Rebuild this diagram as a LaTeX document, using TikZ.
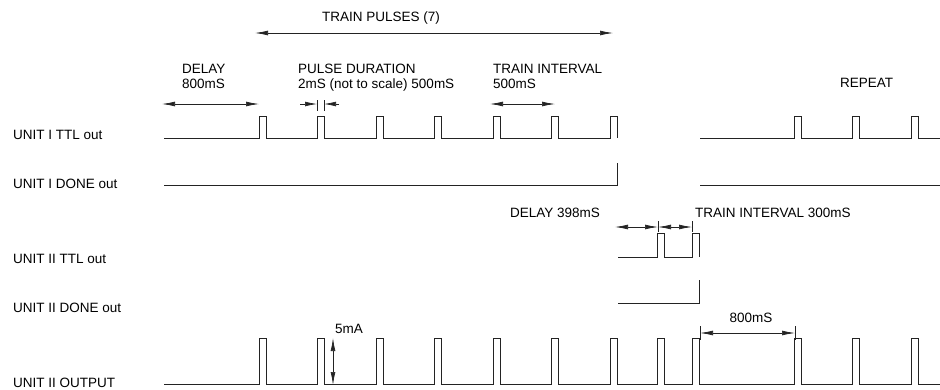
\documentclass[tikz,border=0pt]{standalone}
\usepackage{fontspec}
\setmainfont{Liberation Sans}
\usepackage{tikz}
\usetikzlibrary{arrows.meta, positioning, calc}
\definecolor{trace}{RGB}{35,35,35}

\tikzset{
  wave/.style={trace, line width=0.9pt},
  dim/.style={trace, line width=0.7pt, {Latex[length=13pt,width=4.8pt]}-{Latex[length=13pt,width=4.8pt]}},
  dimone/.style={trace, line width=0.7pt, -{Latex[length=12pt,width=4.8pt]}},
  tick/.style={trace, line width=0.6pt},
  lbl/.style={font=\fontsize{13.5}{16}\selectfont, inner sep=0pt, anchor=base west},
}

\begin{document}
\begin{tikzpicture}[x=1pt, y=-1pt]
  \useasboundingbox (0,0) rectangle (940,389);

  % signal names
  \node[lbl] (ttlA)  at (13,139) {UNIT I TTL out};
  \node[lbl] (doneA) at (13,188) {UNIT I DONE out};
  \node[lbl] (ttlB)  at (13,263) {UNIT II TTL out};
  \node[lbl] (doneB) at (13,312) {UNIT II DONE out};
  \node[lbl] (outB)  at (13,387) {UNIT II OUTPUT};

  % unit I TTL, train of 7 and repeat
  \draw[wave] (164,138) \foreach \p in {259,317,376,434,493,551,610}
    { -- (\p,138) -- (\p,116) -- (\p+7,116) -- (\p+7,138) };
  \draw[wave] (700,138) \foreach \p in {794,852,911}
    { -- (\p,138) -- (\p,116) -- (\p+7,116) -- (\p+7,138) } -- (940,138);

  % unit I DONE
  \draw[wave] (164,185) -- (617,185) -- (617,163);
  \draw[wave] (700,185) -- (940,185);

  % unit II TTL and DONE
  \draw[wave] (618,257) \foreach \p in {657,692}
    { -- (\p,257) -- (\p,233) -- (\p+7,233) -- (\p+7,257) };
  \draw[wave] (618,303) -- (699,303) -- (699,280);

  % unit II output
  \draw[wave] (164,384) \foreach \p in {259,317,376,434,493,551,610,657,692,794,852,911}
    { -- (\p,384) -- (\p,338) -- (\p+7,338) -- (\p+7,384) } -- (940,384);

  % train pulses
  \coordinate (tpL) at (255,33);
  \coordinate (tpR) at (613,33);
  \draw[dim] (tpL) -- (tpR);
  \node[lbl, anchor=base] (tpT) at (381,21) {TRAIN PULSES (7)};

  % delay 800mS
  \node[lbl] (dlT) at (182,73) {DELAY};
  \node[lbl] (dlV) at (182,88) {800mS};
  \coordinate (dlL) at (162,104);
  \coordinate (dlR) at (259,104);
  \draw[dim] (dlL) -- (dlR);

  % pulse duration
  \node[lbl] (pdT) at (298,73) {PULSE DURATION};
  \node[lbl] (pdV) at (298,88) {2mS (not to scale) 500mS};
  \draw[tick] (317,100) -- (317,111);
  \draw[tick] (324,100) -- (324,111);
  \draw[dimone] (300,104) -- (317,104);
  \draw[dimone] (339,104) -- (324,104);

  % train interval 500mS
  \node[lbl] (tiT) at (493,73) {TRAIN INTERVAL};
  \node[lbl] (tiV) at (493,88) {500mS};
  \coordinate (tiL) at (490,104);
  \coordinate (tiR) at (555,104);
  \draw[dim] (tiL) -- (tiR);

  \node[lbl] (rep) at (840,87) {REPEAT};

  % unit II timing
  \node[lbl] (d2T) at (510,217) {DELAY 398mS};
  \node[lbl] (t2T) at (695,217) {TRAIN INTERVAL 300mS};
  \draw[tick] (658,221) -- (658,232);
  \draw[tick] (692,221) -- (692,232);
  \draw[dim] (615,227) -- (658,227);
  \draw[dim] (658,227) -- (692,227);

  % amplitude
  \draw[dim] (333,338) -- (333,385);
  \node[lbl] (amp) at (335,333) {5mA};

  % gap to repeat
  \draw[tick] (700,326) -- (700,340);
  \draw[tick] (795,326) -- (795,340);
  \draw[dim] (700,333) -- (795,333);
  \node[lbl, anchor=base] (gapT) at (751,322) {800mS};
\end{tikzpicture}
\end{document}
